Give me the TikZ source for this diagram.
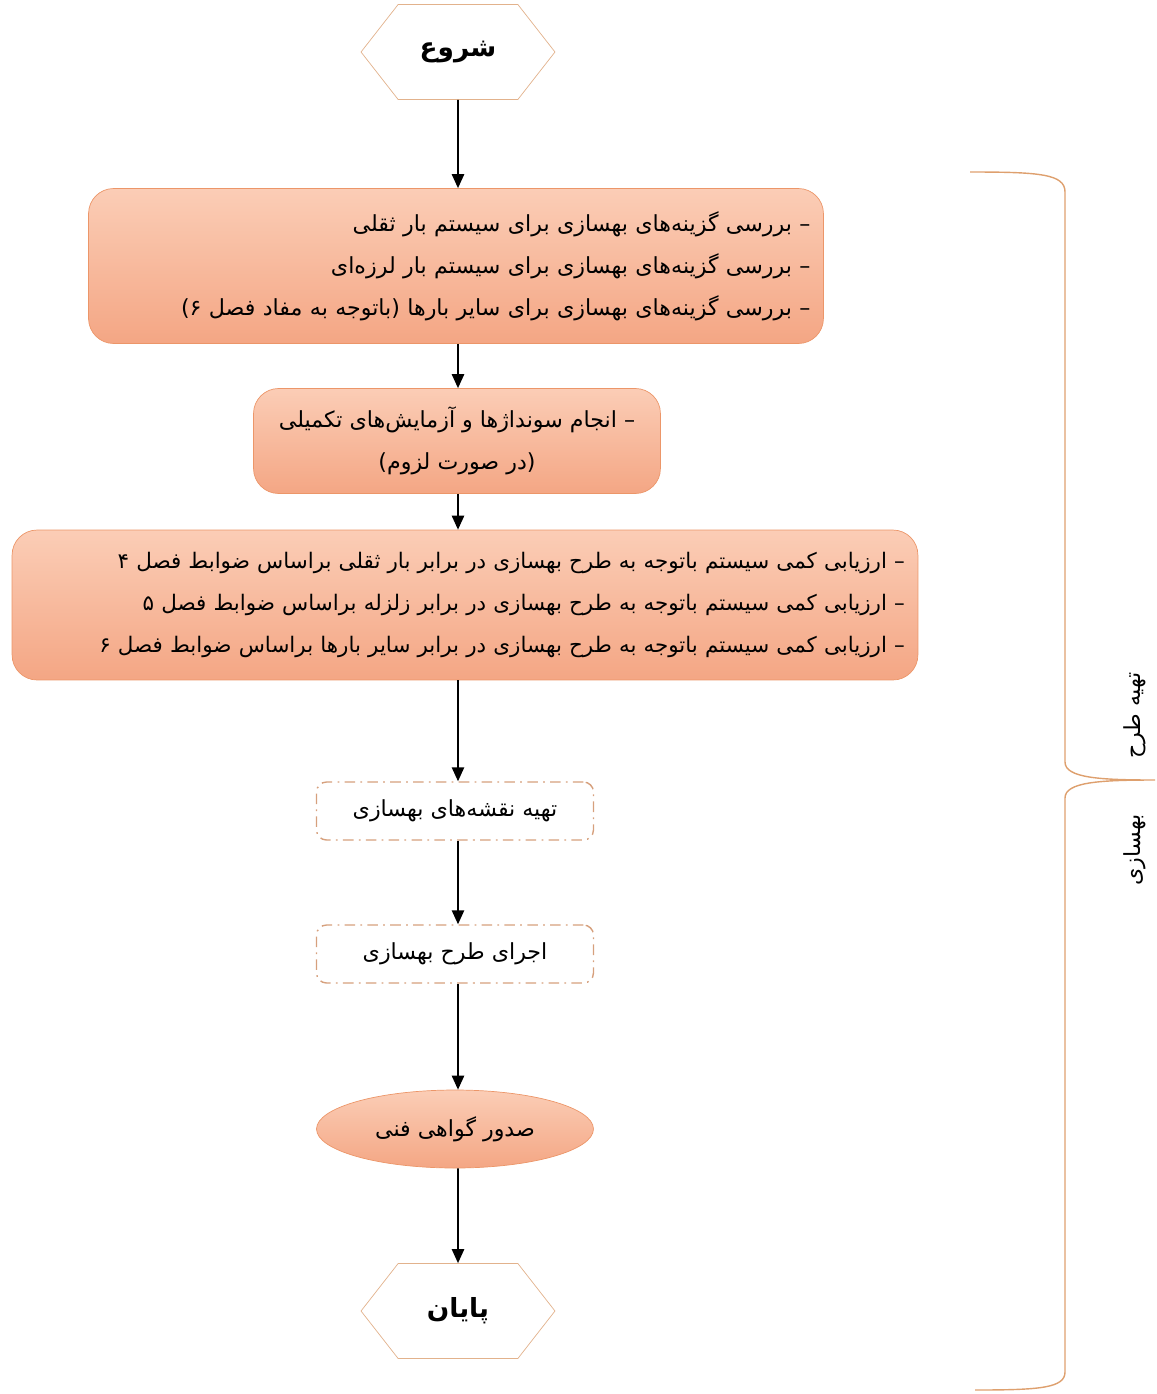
\documentclass[tikz,border=0pt]{standalone}
\usepackage{fontspec}
\usepackage{xcolor}
\usepackage{tikz}
\usetikzlibrary{arrows.meta, positioning, shapes.geometric, shapes.symbols}
\TeXXeTstate=1
\newfontfamily\farsi[Script=Arabic]{DejaVu Sans}
\definecolor{boxtop}{RGB}{251,205,182}
\definecolor{boxbot}{RGB}{244,166,132}
\definecolor{boxline}{RGB}{236,150,105}
\definecolor{hexline}{RGB}{226,178,140}
\definecolor{dashline}{RGB}{214,160,125}
\definecolor{braceline}{RGB}{222,160,110}

\begin{document}
\begin{tikzpicture}[x=0.02cm, y=-0.02cm,
    font=\farsi\fontsize{12.6}{24}\selectfont,
    stepbox/.style={draw=boxline, top color=boxtop, bottom color=boxbot, rounded corners=0.5cm, inner xsep=0.26cm},
    dashbox/.style={draw=dashline, line width=0.8pt, dash pattern=on 6pt off 3pt on 1pt off 3pt, rounded corners=0.2cm, minimum width=5.54cm, minimum height=1.16cm},
    hexbox/.style={signal, signal to=east and west, signal pointer angle=104, draw=hexline, fill=white, minimum width=3.88cm, minimum height=1.9cm, font=\farsi\bfseries\fontsize{15}{18}\selectfont},
    arr/.style={-{Triangle[length=8pt, width=7pt]}, line width=1pt}]
  \useasboundingbox (0,0) rectangle (1157,1394);

  \node[hexbox] (start) at (458,52) {\beginR شروع\endR};

  \node[stepbox, text width=14.18cm, minimum height=3.1cm, align=right] (check) at (456,266) {%
    \beginR – بررسی گزینه‌های بهسازی برای سیستم بار ثقلی\endR\\
    \beginR – بررسی گزینه‌های بهسازی برای سیستم بار لرزه‌ای\endR\\
    \beginR – بررسی گزینه‌های بهسازی برای سایر بارها (باتوجه به مفاد فصل ۶)\endR};

  \node[stepbox, minimum width=8.14cm, minimum height=2.1cm, align=center] (tests) at (457,441) {%
    \beginR – انجام سونداژها و آزمایش‌های تکمیلی\endR\\
    \beginR (در صورت لزوم)\endR};

  \node[stepbox, text width=17.6cm, minimum height=3cm, align=right,
        font=\farsi\fontsize{12.2}{24}\selectfont] (assess) at (465,605) {%
    \beginR – ارزیابی کمی سیستم باتوجه به طرح بهسازی در برابر بار ثقلی براساس ضوابط فصل ۴\endR\\
    \beginR – ارزیابی کمی سیستم باتوجه به طرح بهسازی در برابر زلزله براساس ضوابط فصل ۵\endR\\
    \beginR – ارزیابی کمی سیستم باتوجه به طرح بهسازی در برابر سایر بارها براساس ضوابط فصل ۶\endR};

  \node[dashbox] (maps) at (455,811) {\beginR تهیه نقشه‌های بهسازی\endR};
  \node[dashbox] (run) at (455,954) {\beginR اجرای طرح بهسازی\endR};

  \node[ellipse, draw=boxline, top color=boxtop, bottom color=boxbot, minimum width=5.54cm, minimum height=1.56cm, inner sep=0pt] (cert) at (455,1129) {\beginR صدور گواهی فنی\endR};

  \node[hexbox] (finish) at (458,1311) {\beginR پایان\endR};

  \draw[arr] (start) -- (start |- check.north);
  \draw[arr] (check.south -| start) -- (start |- tests.north);
  \draw[arr] (tests.south -| start) -- (start |- assess.north);
  \draw[arr] (assess.south -| start) -- (start |- maps.north);
  \draw[arr] (maps.south -| start) -- (start |- run.north);
  \draw[arr] (run.south -| start) -- (start |- cert.north);
  \draw[arr] (cert.south -| start) -- (finish);

  % brace on the right
  \draw[braceline, line width=0.8pt] (970,172) .. controls (1040,172) and (1065,174) .. (1065,192)
    -- (1065,762) .. controls (1065,778) and (1100,780) .. (1155,780)
    .. controls (1100,780) and (1065,782) .. (1065,798)
    -- (1065,1372) .. controls (1065,1388) and (1040,1390) .. (975,1390);
  \node[rotate=90] (plan) at (1135,715) {\beginR تهیه طرح\endR};
  \node[rotate=90] (retro) at (1135,850) {\beginR بهسازی\endR};
\end{tikzpicture}
\end{document}
